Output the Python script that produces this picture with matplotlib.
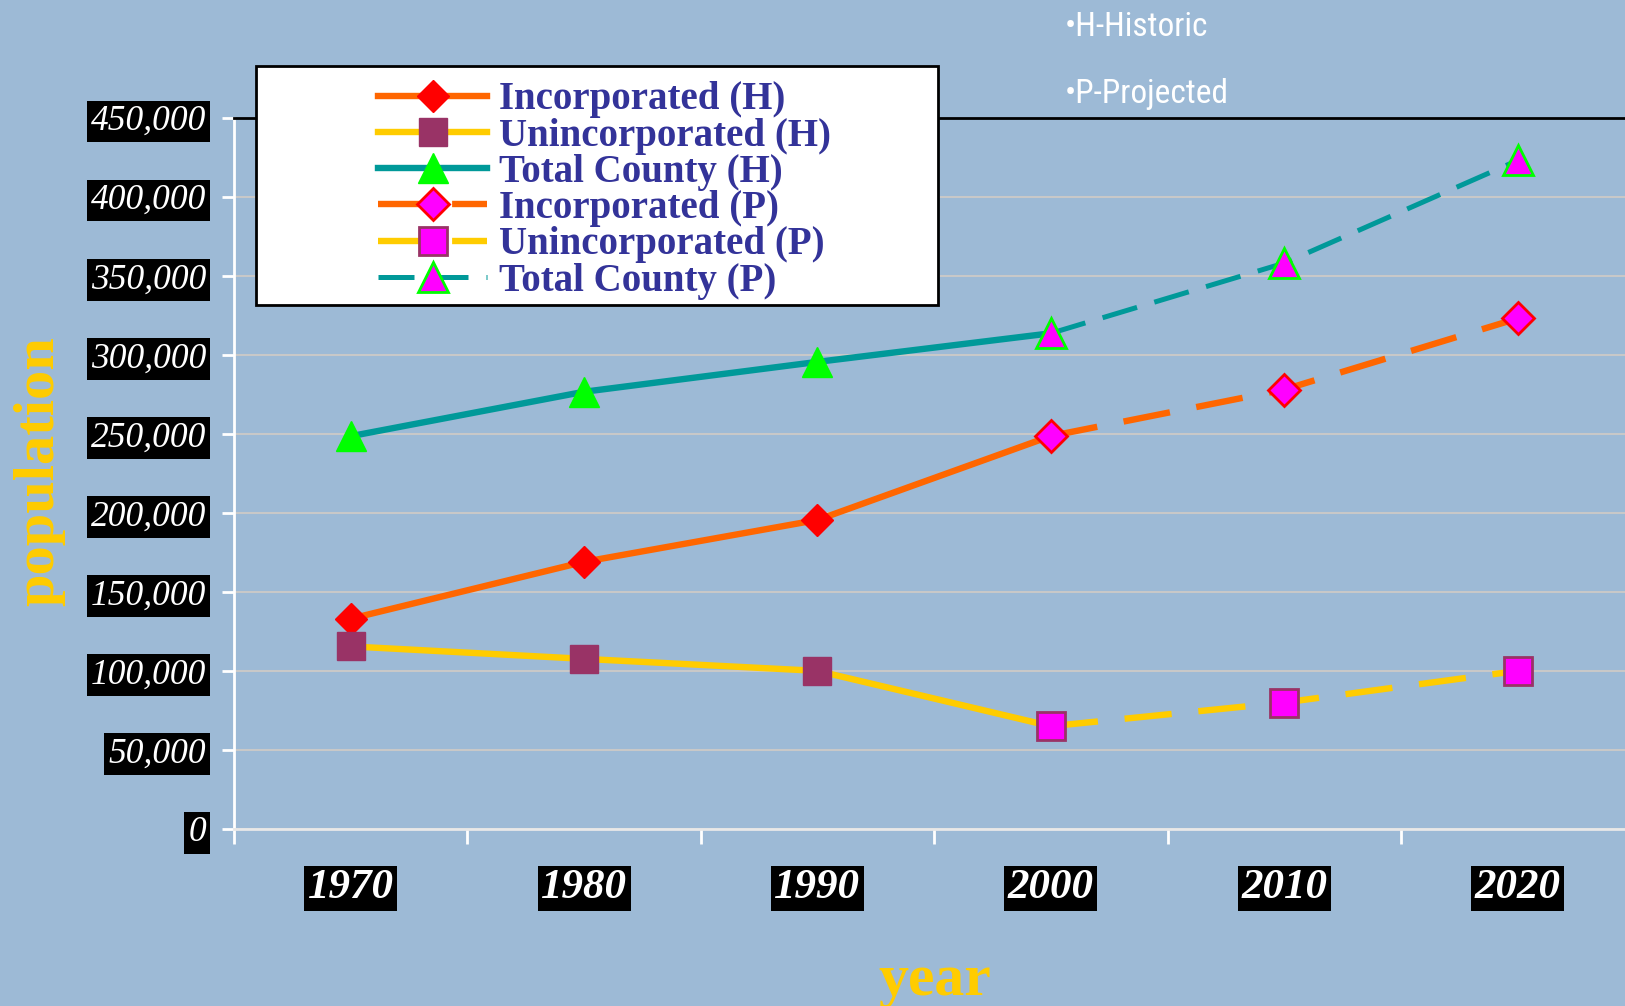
import matplotlib.pyplot as plt
import numpy as np
from matplotlib.lines import Line2D
from matplotlib.patches import Rectangle

# datos
years = ['1970', '1980', '1990', '2000', '2010', '2020']
incorporated_h = [133000, 169000, 195500, 248600]
unincorporated_h = [115500, 107600, 100000, 65000]
total_h = [248500, 276600, 295500, 313600]
incorporated_p = [248600, 278000, 323000]
unincorporated_p = [65000, 80000, 100000]
total_p = [313600, 358000, 423000]
yticks = np.arange(0, 450001, 50000)

bg = '#9DBAD6'
c_inc = '#FF6600'
c_uni = '#FFCC00'
c_tot = '#009999'
serif = 'Liberation Serif'

x_h = np.arange(len(incorporated_h))
x_p = np.arange(3, 3 + len(incorporated_p))

fig = plt.figure(figsize=(16.25, 10.06), dpi=100, facecolor=bg)
ax = fig.add_axes([0.144, 0.176, 0.856, 0.707], facecolor=bg)

lw = 4.6
lw_t = 3.6
ms_d, ms_s, ms_t = 16, 20, 21
dash = (0, (7.4, 4.2))
dash_t = (0, (7.2, 3.6))

# estilos de cada serie (historico / proyectado)
st_inc_h = dict(color=c_inc, lw=lw, marker='D', ms=ms_d, mfc='red', mec='red')
st_uni_h = dict(color=c_uni, lw=lw, marker='s', ms=ms_s, mfc='#993366', mec='#993366')
st_tot_h = dict(color=c_tot, lw=lw, marker='^', ms=ms_t, mfc='#00FF00', mec='#00FF00')
st_inc_p = dict(color=c_inc, lw=lw, ls=dash, marker='D', ms=ms_d, mfc='#FF00FF', mec='red', mew=2)
st_uni_p = dict(color=c_uni, lw=lw, ls=dash, marker='s', ms=ms_s, mfc='#FF00FF', mec='#993366', mew=2)
st_tot_p = dict(color=c_tot, lw=lw_t, ls=dash_t, marker='^', ms=ms_t, mfc='#FF00FF', mec='#00FF00', mew=2)

# lineas historicas (el marcador de 2000 es el proyectado)
ax.plot(x_h, incorporated_h, color=c_inc, lw=lw, zorder=3)
ax.plot(x_h, unincorporated_h, color=c_uni, lw=lw, zorder=3)
ax.plot(x_h, total_h, color=c_tot, lw=lw, zorder=3)
for vals, st in [(incorporated_h, st_inc_h), (unincorporated_h, st_uni_h), (total_h, st_tot_h)]:
    mk = {k: v for k, v in st.items() if k not in ('color', 'lw')}
    ax.plot(x_h[:3], vals[:3], ls='none', zorder=4, **mk)

# lineas proyectadas
ax.plot(x_p, incorporated_p, zorder=4, **st_inc_p)
ax.plot(x_p, unincorporated_p, zorder=4, **st_uni_p)
ax.plot(x_p, total_p, zorder=4, **st_tot_p)

ax.set_xlim(-0.5, 5.46)
ax.set_ylim(0, 450000)

# ejes
ax.set_yticks(yticks)
ax.set_yticklabels([f'{v:,}' for v in yticks])
ax.set_xticks(np.arange(-0.5, 5.0, 1.0))
ax.set_xticklabels([])
ax.set_xticks(np.arange(len(years)), minor=True)
ax.set_xticklabels(years, minor=True)

ax.tick_params(axis='y', colors='white', length=9, width=2, pad=11, labelsize=25.5)
ax.tick_params(axis='x', which='major', colors='white', length=11, width=2)
ax.tick_params(axis='x', which='minor', length=0, pad=29, labelsize=31, labelcolor='white')

for lab in ax.get_yticklabels():
    lab.set_family(serif)
    lab.set_style('italic')
    lab.set_bbox(dict(facecolor='black', edgecolor='none', pad=3))
for lab in ax.get_xticklabels(minor=True):
    lab.set_family(serif)
    lab.set_style('italic')
    lab.set_weight('bold')
    lab.set_bbox(dict(facecolor='black', edgecolor='none', pad=2.5))

ax.grid(axis='y', color='#C8C8C8', lw=1.5, zorder=1)
ax.set_axisbelow(True)
ax.spines['left'].set_color('white')
ax.spines['left'].set_linewidth(2)
ax.spines['bottom'].set_color('#E8E8E8')
ax.spines['bottom'].set_linewidth(2)
ax.spines['top'].set_color('black')
ax.spines['top'].set_linewidth(2)
ax.spines['right'].set_visible(False)

fig.text(0.024, 0.532, 'population', rotation=90, ha='center', va='center',
         color='#FFCC00', fontsize=42, weight='bold', family=serif)
fig.text(0.575, 0.011, 'year', ha='center', va='baseline',
         color='#FFCC00', fontsize=43, weight='bold', family=serif)

narrow = ['Roboto Condensed', 'Roboto', 'DejaVu Sans']
fig.text(0.655, 0.973, '•H-Historic', ha='left', va='center', color='white',
         fontsize=24, family=narrow)
fig.text(0.655, 0.907, '•P-Projected', ha='left', va='center', color='white',
         fontsize=24, family=narrow)

# caja de la leyenda
fig.add_artist(Rectangle((0.1575, 0.6968), 0.4197, 0.2376, transform=fig.transFigure,
                         facecolor='white', edgecolor='black', lw=2, zorder=1))

handles = [Line2D([], [], **st) for st in (st_inc_h, st_uni_h, st_tot_h, st_inc_p, st_uni_p, st_tot_p)]
labels = ['Incorporated (H)', 'Unincorporated (H)', 'Total County (H)',
          'Incorporated (P)', 'Unincorporated (P)', 'Total County (P)']
leg = fig.legend(handles, labels, loc='upper left', bbox_to_anchor=(359 / 1625, 1 - 62 / 1006),
                 frameon=False, borderpad=0, numpoints=1, handlelength=2.8,
                 handletextpad=0.3, labelspacing=-0.02,
                 prop=dict(family=serif, weight='bold', size=28))
leg.set_zorder(5)
for t in leg.get_texts():
    t.set_color('#333399')

plt.savefig('out.png', dpi=100, facecolor=bg)
